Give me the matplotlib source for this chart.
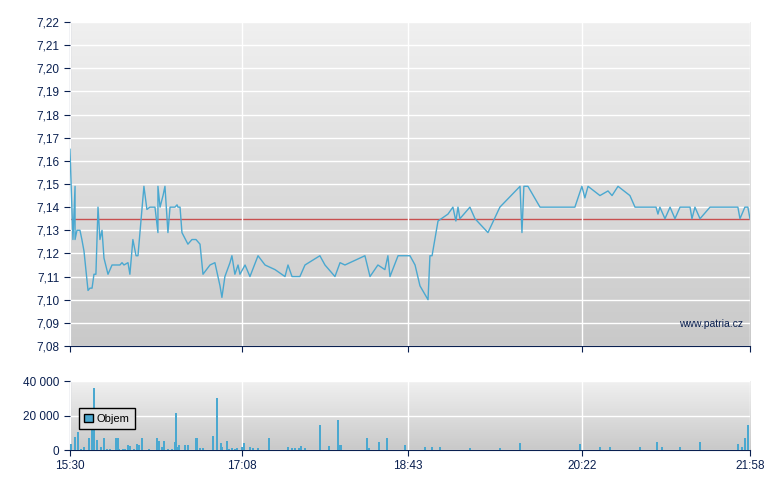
import numpy as np
import matplotlib
matplotlib.use("Agg")
import matplotlib.pyplot as plt
from matplotlib.patches import Patch
from matplotlib.colors import LinearSegmentedColormap

plt.rcParams["font.family"] = ["Liberation Sans", "DejaVu Sans"]

# minutes since 15:30
price_t = [0, 1.7, 2.9, 2.9, 4, 5.7, 6.8, 8, 9.1, 10.3, 11.4, 12.6, 13.7, 14.8, 16, 17.1,
           18.3, 19.4, 21.7, 24, 25.7, 27.4, 28.5, 29.7, 30.8, 33.1, 34.2, 35.9, 37.7, 38.8,
           41.1, 42.2, 43.9, 45.6, 48.5, 50.2, 50.2, 51.4, 53.1, 54.2, 55.9, 57.1, 59.9, 61.1,
           61.6, 62.8, 63.9, 67.3, 69.6, 71.9, 74.2, 75.9, 79.9, 82.7, 85.6, 86.7, 88.4, 91.3,
           92.4, 94.1, 95.9, 97, 99.9, 102.7, 107.3, 111.3, 117, 122.7, 124.4, 126.7, 131.2,
           134.1, 142.6, 145.5, 151.2, 154.1, 156.9, 168.3, 171.2, 175.7, 179.7, 181.4, 182.6,
           187.2, 191.1, 194, 196.9, 199.7, 204.3, 205.4, 206.6, 210, 215.7, 218.5, 220.2,
           221.4, 222.5, 228.2, 231.1, 238.5, 245.3, 256.8, 257.9, 259, 261.3, 268.2, 288.1,
           292.1, 293.8, 295.6, 302.4, 307, 309.3, 312.7, 319.5, 322.4, 334.4, 335.5, 336.6,
           339.5, 342.4, 345.2, 348.1, 353.8, 354.9, 356.6, 359.5, 365.2, 381.1, 382.3, 385.1,
           386.8, 388]
price_v = [7.165, 7.126, 7.149, 7.126, 7.13, 7.13, 7.126, 7.121, 7.113, 7.104, 7.105, 7.105,
           7.111, 7.111, 7.14, 7.126, 7.13, 7.118, 7.111, 7.115, 7.115, 7.115, 7.115, 7.116,
           7.115, 7.116, 7.111, 7.126, 7.119, 7.119, 7.139, 7.149, 7.139, 7.14, 7.14, 7.129,
           7.149, 7.14, 7.145, 7.149, 7.129, 7.14, 7.14, 7.141, 7.14, 7.14, 7.129, 7.124,
           7.126, 7.126, 7.124, 7.111, 7.115, 7.116, 7.106, 7.101, 7.11, 7.116, 7.119, 7.111,
           7.115, 7.111, 7.115, 7.11, 7.119, 7.115, 7.113, 7.11, 7.115, 7.11, 7.11, 7.115,
           7.119, 7.115, 7.11, 7.116, 7.115, 7.119, 7.11, 7.115, 7.113, 7.119, 7.11, 7.119,
           7.119, 7.119, 7.115, 7.106, 7.10, 7.119, 7.119, 7.134, 7.137, 7.14, 7.134, 7.14,
           7.135, 7.14, 7.135, 7.129, 7.14, 7.149, 7.129, 7.149, 7.149, 7.14, 7.14, 7.149,
           7.144, 7.149, 7.145, 7.147, 7.145, 7.149, 7.145, 7.14, 7.14, 7.137, 7.14, 7.135,
           7.14, 7.135, 7.14, 7.14, 7.135, 7.14, 7.135, 7.14, 7.14, 7.135, 7.14, 7.14, 7.135]

vol_t = [0.6, 2.7, 4.6, 6.1, 8.2, 11, 12.4, 13.7, 15.2, 17.9, 19.2, 21.3, 22.8, 26.1, 27.2,
         27.8, 30.1, 31.4, 32.9, 34.2, 36.7, 38.1, 39.2, 40.9, 44.9, 49.5, 51, 52.3, 53.6,
         55.8, 58.4, 59.7, 60.5, 61.2, 62.2, 65.6, 67.5, 71.7, 72.6, 74.2, 75.9, 81.8, 83.7,
         86, 86.8, 89.6, 90.9, 92.3, 92.6, 94.2, 95.1, 98, 99.1, 102.7, 104.3, 107.5, 113.4,
         124.6, 126.6, 128.4, 130.7, 132, 134.1, 142.7, 148, 153, 154.1, 154.9, 169.3, 170.8,
         176.3, 180.7, 191.1, 202.5, 206.6, 211.1, 228.2, 245.3, 256.8, 291, 302.4, 308.2,
         325.3, 335, 337.8, 348.1, 359.5, 381.1, 383.4, 385.1, 386.8]
vol_v = [3500, 7300, 10500, 600, 1500, 6700, 14400, 35700, 5800, 1500, 6700, 600, 600, 6700,
         6700, 600, 600, 600, 2900, 2300, 600, 3500, 3000, 6700, 600, 6700, 5200, 1500, 5200,
         600, 600, 4600, 21500, 1500, 2900, 2900, 2900, 6700, 6700, 1000, 1000, 8100, 30000,
         4200, 1500, 5200, 600, 1000, 1000, 600, 1000, 1500, 4200, 1500, 1000, 1000, 6700,
         1500, 1000, 1000, 1000, 2300, 1000, 14400, 2300, 17300, 2900, 2900, 6700, 1000,
         4600, 6700, 3000, 2000, 1500, 1500, 1000, 1000, 4000, 3500, 1500, 1500, 1500, 4600,
         2000, 2000, 4600, 3500, 2000, 7000, 14400]

ref_price = 7.135
tick_t = [0, 98, 193, 292, 388]
tick_lbl = ["15:30", "17:08", "18:43", "20:22", "21:58"]

BLUE = "#4aa8d0"
NAVY = "#0a2050"

fig = plt.figure(figsize=(7.8, 4.9), dpi=100)
grad = np.linspace(0, 1, 256).reshape(-1, 1)
bg_cmap = LinearSegmentedColormap.from_list("bg", ["#f0f0f0", "#c9c9c9"])


def style(ax, ylo, yhi):
    ax.imshow(grad, extent=[0, 388, ylo, yhi], aspect="auto", cmap=bg_cmap,
              zorder=0, origin="upper")
    ax.set_xlim(0, 388)
    ax.set_ylim(ylo, yhi)
    for s in ["top", "right"]:
        ax.spines[s].set_visible(False)
    for s in ["left", "bottom"]:
        ax.spines[s].set_color(NAVY)
    ax.tick_params(colors=NAVY, labelsize=8.5, length=4, width=0.8)
    ax.set_xticks(tick_t)
    ax.grid(True, color="white", lw=1, zorder=1)
    ax.set_axisbelow(False)


ax1 = fig.add_axes([0.0897, 0.2939, 0.8718, 0.6612])
style(ax1, 7.08, 7.22)
yt = np.round(np.arange(7.08, 7.2201, 0.01), 2)
ax1.set_yticks(yt)
ax1.set_yticklabels([f"{v:.2f}".replace(".", ",") for v in yt])
ax1.set_xticklabels([])
ax1.axhline(ref_price, color="#c85050", lw=1, zorder=2)
ax1.plot(price_t, price_v, color=BLUE, lw=1, zorder=3)
ax1.text(0.99, 0.06, "www.patria.cz", transform=ax1.transAxes, ha="right",
         fontsize=7.5, color="#0a2050", zorder=4)

ax2 = fig.add_axes([0.0897, 0.0816, 0.8718, 0.1408])
style(ax2, 0, 40000)
ax2.set_yticks([0, 20000, 40000])
ax2.set_yticklabels(["0", "20 000", "40 000"])
ax2.set_xticklabels(tick_lbl)
ax2.bar(vol_t, vol_v, width=1.2, color=BLUE, zorder=3)
leg = ax2.legend(handles=[Patch(facecolor=BLUE, edgecolor="black", label="Objem")],
                 loc="lower left", bbox_to_anchor=(0.005, 0.22), fontsize=8,
                 fancybox=False, framealpha=1, handlelength=0.8, handleheight=0.8,
                 borderpad=0.5, handletextpad=0.3)
leg.get_frame().set_edgecolor("black")
leg.get_frame().set_facecolor("#e0e0e0")
leg.set_zorder(5)

fig.savefig("out.png", dpi=100)
